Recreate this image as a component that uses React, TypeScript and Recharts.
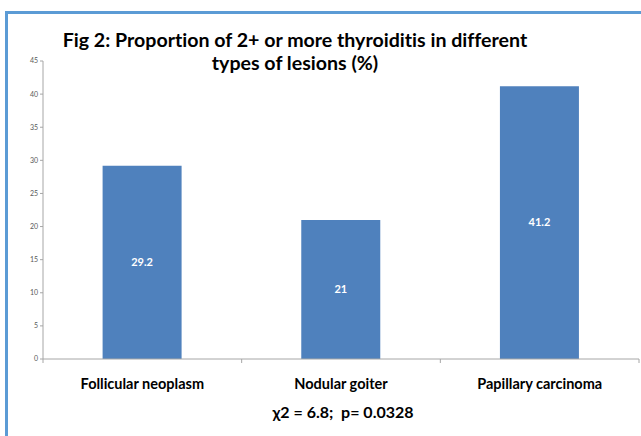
import React from "react";
import { BarChart, Bar, XAxis, YAxis, LabelList } from "recharts";

const categories = ["Follicular neoplasm", "Nodular goiter", "Papillary carcinoma"];
const values = [29.2, 21, 41.2];
const valueLabels = ["29.2", "21", "41.2"];
const yTicks = [0, 5, 10, 15, 20, 25, 30, 35, 40, 45];
const titleLines = ["Fig 2: Proportion of 2+ or more thyroiditis in different", "types of lesions (%)"];
const footnote = "\u03C72 = 6.8;  p= 0.0328";

const data = categories.map((c, i) => ({ name: c, value: values[i], label: valueLabels[i] }));

const W = 641;
const H = 436;
const FONT = "Lato, 'Open Sans', sans-serif";

const CatTick = (props: any) => {
  const { x, y, payload, index, visibleTicksCount } = props;
  const half = payload && payload.offset ? payload.offset : 99.3;
  const isLast = index === (visibleTicksCount ?? 3) - 1;
  return (
    <g>
      <line x1={x - half} y1={y - 8} x2={x - half} y2={y - 4} stroke="#a6a6a6" />
      {isLast && <line x1={x + half} y1={y - 8} x2={x + half} y2={y - 4} stroke="#a6a6a6" />}
      <text x={x} y={y + 22} textAnchor="middle" fontFamily={FONT} fontWeight={700} fontSize={14.5} fill="#000" style={{ fontVariantLigatures: "none" }}>
        {payload.value}
      </text>
    </g>
  );
};

export default function App() {
  return (
    <div style={{ position: "absolute", left: 0, top: 0, width: W, height: H, background: "#fff", overflow: "hidden" }}>
      <div
        style={{
          position: "absolute",
          left: 5,
          top: 11,
          width: W,
          height: H,
          borderTop: "3px solid #5b9bd5",
          borderLeft: "3px solid #5b9bd5",
          boxSizing: "border-box",
        }}
      />
      <BarChart
        width={W}
        height={H}
        data={data}
        margin={{ top: 61, right: 2, bottom: 47, left: 0 }}
        barCategoryGap="30%"
      >
        <YAxis
          type="number"
          domain={[0, 45]}
          ticks={yTicks}
          interval={0}
          width={43}
          axisLine={{ stroke: "#a6a6a6" }}
          tickLine={{ stroke: "#a6a6a6" }}
          tickSize={3}
          tick={{ fontSize: 7, fill: "#595959", fontFamily: FONT }}
        />
        <XAxis
          dataKey="name"
          height={30}
          axisLine={{ stroke: "#a6a6a6" }}
          tickLine={false}
          interval={0}
          tick={<CatTick />}
        />
        <Bar dataKey="value" fill="#4f81bd" isAnimationActive={false}>
          <LabelList dataKey="label" position="center" fill="#fff" fontSize={11} fontWeight={700} fontFamily={FONT} />
        </Bar>
      </BarChart>
      <div
        style={{
          position: "absolute",
          left: 0,
          top: 28,
          width: 590,
          textAlign: "center",
          fontFamily: FONT,
          fontWeight: 700,
          fontSize: 19.6,
          lineHeight: "23px",
          color: "#000",
          fontVariantLigatures: "none",
          whiteSpace: "pre",
        }}
      >
        <div>{titleLines[0]}</div>
        <div>{titleLines[1]}</div>
      </div>
      <div
        style={{
          position: "absolute",
          left: 0,
          top: 402,
          width: 686,
          textAlign: "center",
          fontFamily: FONT,
          fontWeight: 700,
          fontSize: 16,
          lineHeight: "20px",
          color: "#000",
          whiteSpace: "pre",
        }}
      >
        {footnote}
      </div>
    </div>
  );
}
